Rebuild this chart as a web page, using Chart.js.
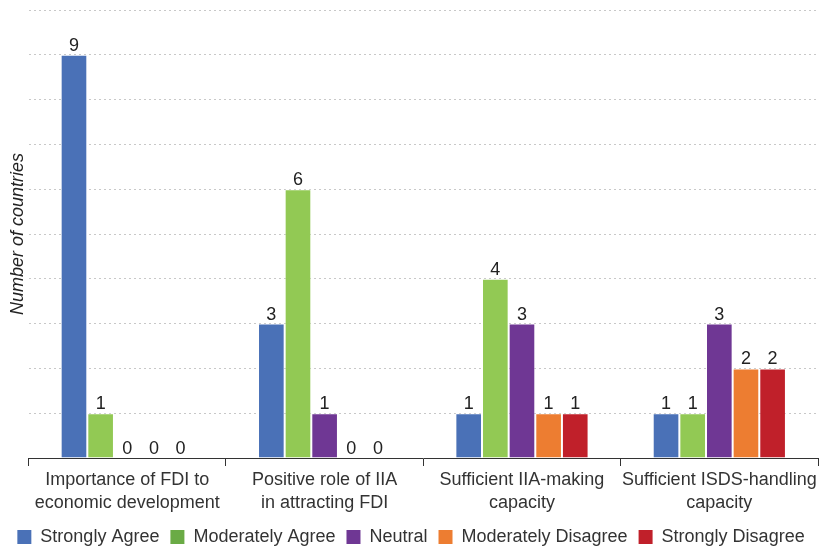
<!DOCTYPE html>
<html>
<head>
<meta charset="utf-8">
<script src="https://cdn.jsdelivr.net/npm/chart.js@4/dist/chart.umd.min.js"></script>
<style>
  html, body { margin: 0; padding: 0; background: #ffffff; }
  #wrap { width: 823px; height: 550px; }
</style>
</head>
<body>
<div id="wrap"><canvas id="c" width="823" height="550"></canvas></div>
<script>
// Survey questions (x-axis categories)
const categories = [
  ['Importance of FDI to', 'economic development'],
  ['Positive role of IIA', 'in attracting FDI'],
  ['Sufficient IIA-making', 'capacity'],
  ['Sufficient ISDS-handling', 'capacity']
];

// Responses per question
const stronglyAgree      = [9, 3, 1, 1];
const moderatelyAgree    = [1, 6, 4, 1];
const neutral            = [0, 1, 3, 3];
const moderatelyDisagree = [0, 0, 1, 2];
const stronglyDisagree   = [0, 0, 1, 2];

const seriesNames = ['Strongly Agree', 'Moderately Agree', 'Neutral', 'Moderately Disagree', 'Strongly Disagree'];
const barColors    = ['#4A71B7', '#92C954', '#6F3794', '#ED7D31', '#C0202A'];
const legendColors = ['#4A71B7', '#6AAB45', '#6F3794', '#ED7D31', '#C0202A'];

const FONT = '"Liberation Sans", Arial, sans-serif';
const FS = 18;

// Value labels above each bar (including zeros)
const valueLabels = {
  id: 'valueLabels',
  afterDatasetsDraw(chart) {
    const ctx = chart.ctx;
    ctx.save();
    ctx.font = FS + 'px ' + FONT;
    ctx.fillStyle = '#222222';
    ctx.textAlign = 'center';
    ctx.textBaseline = 'bottom';
    chart.data.datasets.forEach((ds, i) => {
      const meta = chart.getDatasetMeta(i);
      meta.data.forEach((bar, j) => {
        ctx.fillText(String(ds.data[j]), bar.x, bar.y);
      });
    });
    ctx.restore();
  }
};

const values = [stronglyAgree, moderatelyAgree, neutral, moderatelyDisagree, stronglyDisagree];

new Chart(document.getElementById('c'), {
  type: 'bar',
  data: {
    labels: categories,
    datasets: values.map((v, i) => ({
      label: seriesNames[i],
      data: v,
      backgroundColor: barColors[i],
      borderColor: 'rgba(255,255,255,0.35)',
      borderWidth: 1,
      categoryPercentage: 0.675,
      barPercentage: 1.0
    }))
  },
  options: {
    responsive: false,
    animation: false,
    layout: { padding: { top: 10, right: 5, left: 4, bottom: -6 } },
    scales: {
      x: {
        grid: {
          display: true,
          drawOnChartArea: false,
          offset: true,
          tickLength: 8,
          color: '#333333'
        },
        border: { display: true, color: '#333333', width: 1 },
        ticks: {
          font: { family: FONT, size: FS, lineHeight: 1.25 },
          color: '#333333',
          maxRotation: 0,
          autoSkip: false,
          padding: 3
        }
      },
      y: {
        min: 0,
        max: 10,
        ticks: { display: false, stepSize: 1 },
        border: { display: false, dash: [2, 3] },
        grid: {
          color: (c) => c.tick.value === 0 ? 'rgba(0,0,0,0)' : '#C8C8C8',
          lineWidth: 1,
          drawTicks: false
        },
        title: {
          display: true,
          text: 'Number of countries',
          font: { family: FONT, size: FS, style: 'italic' },
          color: '#222222',
          padding: { top: 3, bottom: 0 }
        }
      }
    },
    plugins: {
      legend: {
        position: 'bottom',
        labels: {
          font: { family: FONT, size: FS },
          color: '#333333',
          boxWidth: 14,
          boxHeight: 14,
          padding: 11,
          generateLabels(chart) {
            return chart.data.datasets.map((ds, i) => ({
              text: ds.label,
              fillStyle: legendColors[i],
              strokeStyle: legendColors[i],
              lineWidth: 0,
              hidden: false,
              datasetIndex: i,
              fontColor: '#333333'
            }));
          }
        }
      },
      tooltip: { enabled: false }
    }
  },
  plugins: [valueLabels]
});
</script>
</body>
</html>
